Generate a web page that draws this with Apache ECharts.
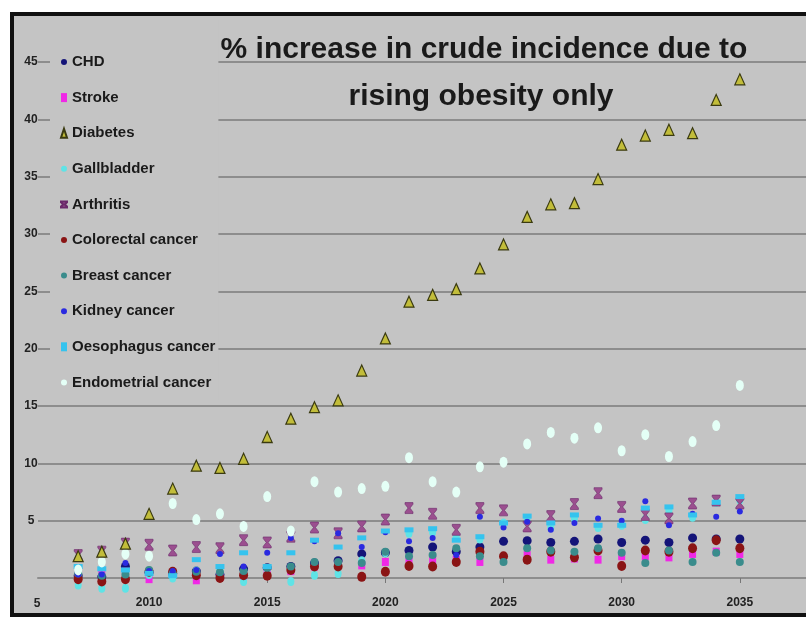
<!DOCTYPE html>
<html><head><meta charset="utf-8">
<script src="https://cdn.jsdelivr.net/npm/echarts@6/dist/echarts.min.js"></script>
<style>
html,body{margin:0;padding:0;background:#fff;width:806px;height:619px;overflow:hidden}
#frame{position:absolute;left:10px;top:12px;width:812px;height:605px;box-sizing:border-box;border:4px solid #111;background:#c4c4c4}
#chart{position:absolute;left:0;top:0;width:806px;height:619px}
</style></head><body>
<div id="frame"></div><div id="chart"></div>
<script>
const titleLines = ['% increase in crude incidence due to', 'rising obesity only'];
const years = [2007,2008,2009,2010,2011,2012,2013,2014,2015,2016,2017,2018,2019,2020,2021,2022,2023,2024,2025,2026,2027,2028,2029,2030,2031,2032,2033,2034,2035];
const xTicks = [2010,2015,2020,2025,2030,2035];
const yTicks = [5,10,15,20,25,30,35,40,45];
const seriesNames = ['CHD','Stroke','Diabetes','Gallbladder','Arthritis','Colorectal cancer','Breast cancer','Kidney cancer','Oesophagus cancer','Endometrial cancer'];
const chd         = [0.2,0.1,1.0,0.5,0.4,0.6,0.3,0.8,0.9,1.0,1.3,1.5,2.1,2.2,2.4,2.7,2.3,2.7,3.2,3.25,3.1,3.2,3.4,3.1,3.3,3.1,3.5,3.4,3.4];
const stroke      = [0.3,0.6,0.55,-0.1,0.3,-0.2,0.1,0.2,0.4,0.6,1.0,1.2,1.1,1.4,1.5,1.6,1.6,1.4,1.6,2.0,1.6,1.7,1.6,1.9,1.9,1.8,2.1,2.3,2.1];
const diabetes    = [1.9,2.3,3.0,5.6,7.8,9.8,9.6,10.4,12.3,13.9,14.9,15.5,18.1,20.9,24.1,24.7,25.2,27.0,29.1,31.5,32.6,32.7,34.8,37.8,38.6,39.1,38.8,41.7,43.5];
const gallbladder = [-0.6,-0.9,-0.9,0.3,0.0,0.6,0.7,-0.3,0.8,-0.3,0.25,0.4,1.5,2.2,3.9,4.0,3.6,3.4,4.8,5.0,4.4,5.2,4.4,4.6,5.1,5.9,5.3,6.6,6.8];
const arthritis   = [2.0,2.3,3.0,2.9,2.4,2.7,2.6,3.3,3.1,3.6,4.4,3.9,4.5,5.1,6.1,5.6,4.2,6.1,5.9,4.5,5.4,6.45,7.4,6.2,5.5,5.2,6.5,6.75,6.5];
const colorectal  = [-0.1,-0.3,-0.1,0.55,0.55,0.25,0.0,0.25,0.2,0.7,1.0,1.0,0.1,0.55,1.05,1.0,1.4,2.3,1.9,1.6,2.3,1.8,2.4,1.05,2.4,2.3,2.6,3.3,2.6];
const breast      = [0.4,0.2,0.3,0.7,0.4,0.55,0.5,0.6,0.9,1.0,1.4,1.4,1.3,2.3,1.9,2.0,2.6,1.9,1.4,2.6,2.4,2.3,2.6,2.2,1.3,2.4,1.4,2.2,1.4];
const kidney      = [0.3,0.3,1.3,0.6,0.6,0.7,2.1,1.0,2.2,3.5,3.2,3.9,2.7,4.0,3.2,3.5,2.0,5.35,4.4,4.9,4.2,4.8,5.2,5.0,6.7,4.6,5.6,5.35,5.8];
const oesophagus  = [1.0,0.8,0.7,0.4,0.2,1.6,1.0,2.2,1.0,2.2,3.3,2.7,3.5,4.1,4.2,4.3,3.3,3.6,4.8,5.4,4.8,5.5,4.6,4.6,6.1,6.2,5.5,6.6,7.1];
const endometrial = [0.7,1.4,2.1,1.9,6.5,5.1,5.6,4.5,7.1,4.1,8.4,7.5,7.8,8.0,10.5,8.4,7.5,9.7,10.1,11.7,12.7,12.2,13.1,11.1,12.5,10.6,11.9,13.3,16.8];

const values = [chd, stroke, diabetes, gallbladder, arthritis, colorectal, breast, kidney, oesophagus, endometrial];
const styles = [
  {symbol:'circle', size:[9,9], color:'#141478'},
  {symbol:'rect', size:[7,8], color:'#f028e6'},
  {symbol:'triangle', size:[10,11], color:'#c2bd3a', border:'#3a3a10', bw:1.2, z:3},
  {symbol:'circle', size:[7,9], color:'#5fe3e6'},
  {symbol:'path://M0,0L10,0L10,1.5L6.2,5L10,8.5L10,10L0,10L0,8.5L3.8,5L0,1.5Z', size:[8,11], color:'#9b4f8f', border:'#6a2a6a', bw:0.6},
  {symbol:'circle', size:[9,10], color:'#8a1414'},
  {symbol:'circle', size:[8,8], color:'#3a8c8c'},
  {symbol:'circle', size:[6,6], color:'#2a2ae0'},
  {symbol:'rect', size:[9,5], color:'#35c3ee'},
  {symbol:'circle', size:[8,11], color:'#e4fff6'}
];
const sans = '"Liberation Sans",Arial,sans-serif';
const series = seriesNames.map((name, k) => ({
  type:'scatter', name, clip:false, z: styles[k].z || 2,
  symbol: styles[k].symbol, symbolSize: styles[k].size,
  itemStyle:{color: styles[k].color, borderColor: styles[k].border || styles[k].color, borderWidth: styles[k].bw || 0, opacity:1},
  data: years.map((y, i) => [y, values[k][i]])
}));

const chart = echarts.init(document.getElementById('chart'));
chart.setOption({
  animation:false,
  backgroundColor:'transparent',
  grid:{left:38, right:0, top:14, bottom:41},
  xAxis:{type:'value', min:2005.3, max:2037.8,
    axisLine:{show:true, lineStyle:{color:'#8d8d8d', width:2}},
    axisTick:{show:true, length:5, lineStyle:{color:'#777'}, customValues:xTicks},
    axisLabel:{customValues:xTicks, margin:19, formatter:v => String(v), fontFamily:sans, fontWeight:'bold', fontSize:12, color:'#222'},
    splitLine:{show:false}},
  yAxis:{type:'value', min:0, max:49.2, interval:5,
    axisLine:{show:false}, axisTick:{show:false},
    axisLabel:{customValues:yTicks, align:'center', margin:7, fontFamily:sans, fontWeight:'bold', fontSize:12, color:'#222'},
    splitLine:{show:true, showMaxLine:false, lineStyle:{color:'#8d8d8d', width:2}}},
  legend:{orient:'vertical', left:50, top:20, padding:[32,3,8,10], backgroundColor:'#c4c4c4',
    itemWidth:6, itemHeight:9, itemGap:15.6,
    textStyle:{fontFamily:sans, fontWeight:'bold', fontSize:15, color:'#1a1a1a', lineHeight:20},
    data:seriesNames},
  graphic:[
    {type:'text', x:484, y:50, z:10, style:{text:titleLines[0], align:'center', verticalAlign:'middle', font:'bold 30px "Liberation Sans", Arial, sans-serif', fill:'#1a1a1a'}},
    {type:'text', x:481, y:97, z:10, style:{text:titleLines[1], align:'center', verticalAlign:'middle', font:'bold 30px "Liberation Sans", Arial, sans-serif', fill:'#1a1a1a'}},
    {type:'text', x:37, y:604, z:10, style:{text:'5', align:'center', verticalAlign:'middle', font:'bold 12px "Liberation Sans", Arial, sans-serif', fill:'#222'}}
  ],
  series
});
</script>
</body></html>
